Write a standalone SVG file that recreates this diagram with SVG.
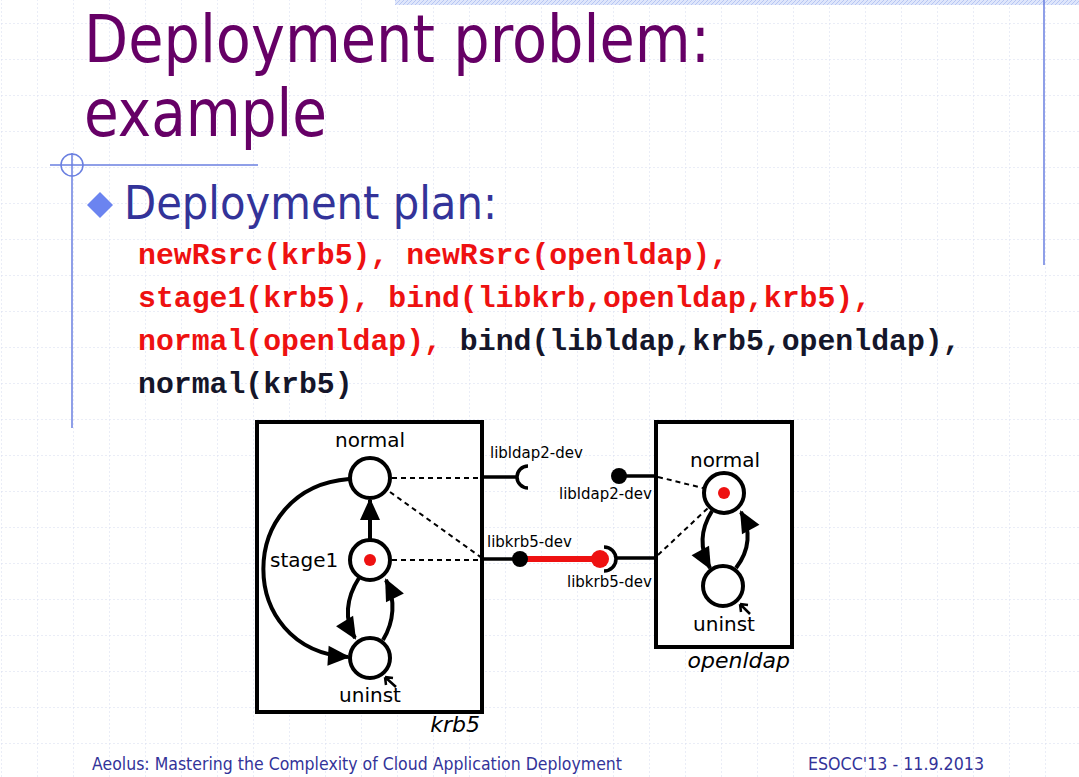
<svg xmlns="http://www.w3.org/2000/svg" width="1079" height="777" viewBox="0 0 1079 777">
<defs>
<pattern id="grid" patternUnits="userSpaceOnUse" x="1" y="23" width="36" height="36">
<path d="M0,0 H36 M0,0 V36" fill="none" stroke="#d6dbef" stroke-width="1" stroke-dasharray="2,2"/>
</pattern>
<pattern id="hatch" patternUnits="userSpaceOnUse" width="4" height="4">
<rect width="4" height="4" fill="#dfe6fb"/>
<path d="M0,4 L4,0" stroke="#b7c6f3" stroke-width="1"/>
</pattern>
<marker id="ah" markerUnits="userSpaceOnUse" viewBox="0 0 22 20" markerWidth="22" markerHeight="20" refX="20" refY="10" orient="auto" overflow="visible">
<path d="M0,0 L22,10 L0,20 Z" fill="#000"/>
</marker>
<style>
.title{font-family:"DejaVu Sans",Verdana,sans-serif;fill:#660066}
.sub{font-family:"DejaVu Sans",Verdana,sans-serif;fill:#333399}
.code{font-family:"Liberation Mono","Courier New",monospace;font-weight:bold;font-size:29.8px}
.red{fill:#ee1111}
.dark{fill:#15162a}
.lbl{font-family:"DejaVu Sans",sans-serif;font-size:20px;fill:#000}
.plbl{font-family:"DejaVu Sans",sans-serif;font-size:15px;fill:#000}
.cname{font-family:"DejaVu Sans",sans-serif;font-size:22px;font-style:italic;fill:#000}
.box{fill:#fff;stroke:#000;stroke-width:4}
.state{fill:#fff;stroke:#000;stroke-width:4}
.tr{fill:none;stroke:#000;stroke-width:4}
.dash{fill:none;stroke:#000;stroke-width:2;stroke-dasharray:5,4}
.wire{fill:none;stroke:#000;stroke-width:3.5}
.foot{font-family:"DejaVu Sans",Tahoma,sans-serif;font-size:17px;fill:#333399}
</style>
</defs>
<rect width="1079" height="777" fill="#fff"/>
<rect width="1079" height="777" fill="url(#grid)"/>
<rect x="395" y="0" width="684" height="5" fill="url(#hatch)"/>
<g id="decor" stroke="#6a7fe0" fill="none" stroke-width="1.5">
<line x1="1044" y1="0" x2="1044" y2="265"/>
<line x1="72" y1="153" x2="72" y2="428"/>
<line x1="50" y1="165" x2="258" y2="165"/>
<circle cx="72" cy="165" r="11"/>
</g>
<g id="title">
<text class="title" x="84" y="62" font-size="66" textLength="626" lengthAdjust="spacingAndGlyphs">Deployment problem:</text>
<text class="title" x="84" y="136" font-size="66" textLength="243" lengthAdjust="spacingAndGlyphs">example</text>
</g>
<g id="bullet">
<path d="M100,192 L113,205 L100,218 L87,205 Z" fill="#6b84f0"/>
<text class="sub" x="124" y="219" font-size="47" textLength="373" lengthAdjust="spacingAndGlyphs">Deployment plan:</text>
</g>
<g id="plan">
<text class="code red" x="138" y="264">newRsrc(krb5), newRsrc(openldap),</text>
<text class="code red" x="138" y="307">stage1(krb5), bind(libkrb,openldap,krb5),</text>
<text class="code" x="138" y="350"><tspan class="red">normal(openldap),</tspan><tspan class="dark"> bind(libldap,krb5,openldap),</tspan></text>
<text class="code dark" x="138" y="393">normal(krb5)</text>
</g>
<g id="krb5">
<rect class="box" x="257" y="422" width="225" height="290"/>
<text class="cname" x="480" y="732" text-anchor="end">krb5</text>
<circle class="state" cx="370" cy="478" r="20"/>
<circle class="state" cx="370" cy="560" r="20"/>
<circle class="state" cx="370" cy="658" r="20"/>
<circle cx="370" cy="560" r="6" fill="#ee1111"/>
<text class="lbl" x="370" y="447" text-anchor="middle">normal</text>
<text class="lbl" x="270" y="567">stage1</text>
<text class="lbl" x="370" y="702" text-anchor="middle">uninst</text>
</g>
<g id="openldap">
<rect class="box" x="656" y="422" width="136" height="225"/>
<text class="cname" x="790" y="668" text-anchor="end">openldap</text>
<circle class="state" cx="724" cy="493" r="20"/>
<circle class="state" cx="723" cy="586" r="20"/>
<circle cx="724" cy="493" r="6" fill="#ee1111"/>
<text class="lbl" x="725" y="467" text-anchor="middle">normal</text>
<text class="lbl" x="724" y="631" text-anchor="middle">uninst</text>
</g>
<g id="connectors">
<path class="tr" d="M370,540 L370,500" marker-end="url(#ah)"/>
<path class="tr" d="M359,578 C346,598 344,620 355,638" marker-end="url(#ah)"/>
<path class="tr" d="M383,640 C394,622 396,600 386,580" marker-end="url(#ah)"/>
<path class="tr" d="M349,479 C235,488 235,650 348,657" marker-end="url(#ah)"/>
<path d="M396,687 L385,677 M385,677 L393,678 M385,677 L386,685" fill="none" stroke="#000" stroke-width="2.5"/>
<path class="tr" d="M712,511 C700,530 700,550 710,568" marker-end="url(#ah)"/>
<path class="tr" d="M736,568 C750,550 751,530 741,512" marker-end="url(#ah)"/>
<path d="M750,614 L740,604 M740,604 L748,605 M740,604 L741,612" fill="none" stroke="#000" stroke-width="2.5"/>
<line class="dash" x1="392" y1="478" x2="482" y2="478"/>
<line class="dash" x1="390" y1="492" x2="482" y2="558"/>
<line class="dash" x1="392" y1="560" x2="482" y2="560"/>
<line class="wire" x1="482" y1="477" x2="516" y2="477"/>
<path d="M528,466 A11,11 0 0 0 528,488" fill="none" stroke="#000" stroke-width="3.5"/>
<text class="plbl" x="490" y="458">libldap2-dev</text>
<line class="wire" x1="482" y1="559" x2="520" y2="559"/>
<line x1="520" y1="559" x2="600" y2="559" stroke="#ee1111" stroke-width="6"/>
<circle cx="520" cy="559" r="8" fill="#000"/>
<circle cx="600" cy="559" r="9" fill="#ee1111"/>
<path d="M604,547 A12,12 0 0 1 604,571" fill="none" stroke="#000" stroke-width="3.5"/>
<line class="wire" x1="616" y1="558" x2="656" y2="558"/>
<text class="plbl" x="487" y="547">libkrb5-dev</text>
<text class="plbl" x="567" y="587">libkrb5-dev</text>
<line class="wire" x1="619" y1="476" x2="656" y2="476"/>
<circle cx="619" cy="476" r="8" fill="#000"/>
<text class="plbl" x="559" y="499">libldap2-dev</text>
<line class="dash" x1="658" y1="477" x2="703" y2="488"/>
<line class="dash" x1="658" y1="555" x2="708" y2="508"/>
</g>
<g id="footer">
<text class="foot" x="92" y="770" textLength="530" lengthAdjust="spacingAndGlyphs">Aeolus: Mastering the Complexity of Cloud Application Deployment</text>
<text class="foot" x="808" y="770" textLength="176" lengthAdjust="spacingAndGlyphs">ESOCC'13 - 11.9.2013</text>
</g>
</svg>
